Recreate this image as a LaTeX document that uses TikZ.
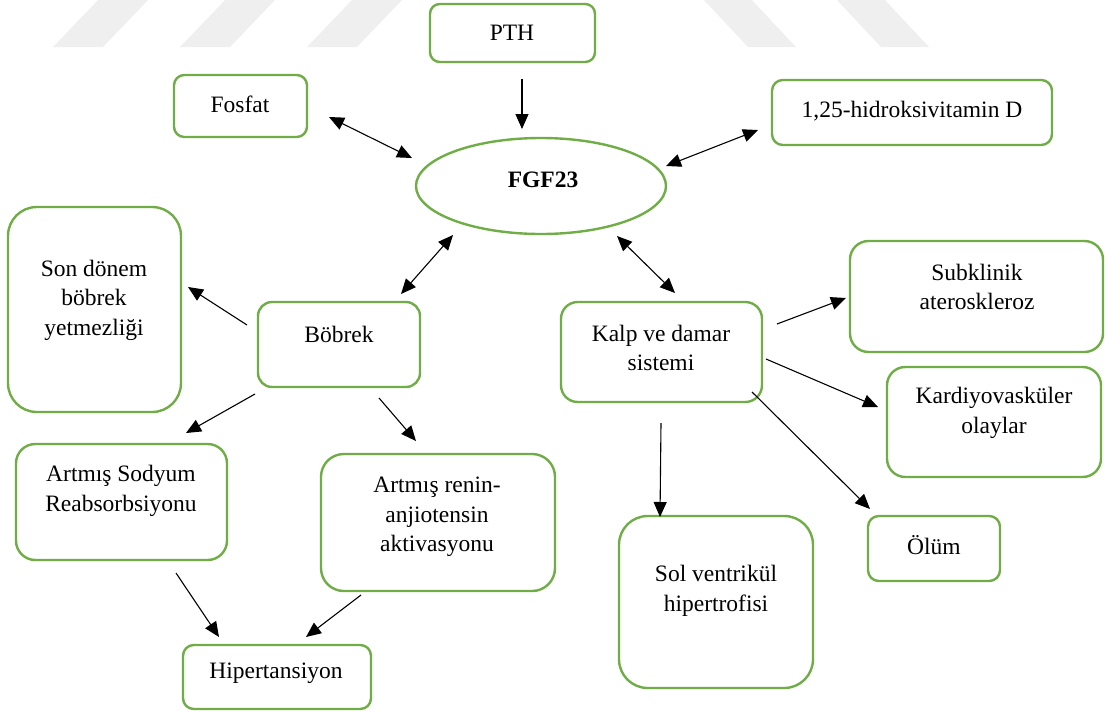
\documentclass[tikz,border=0pt]{standalone}
\usepackage{fontspec}
\setmainfont{Liberation Serif}
\usetikzlibrary{arrows.meta,calc,shapes.geometric}
\definecolor{boxgreen}{HTML}{70AD47}
\definecolor{wmark}{HTML}{EFEFEF}
\tikzset{
  box/.style={draw=boxgreen, line width=2.4pt, fill=white, inner sep=0pt},
  lbl/.style={font=\fontsize{23.5}{29.5}\selectfont, align=center, inner sep=0pt},
  arr/.style={line width=1.1pt, -{Triangle[length=15pt,width=13pt]}},
  biarr/.style={line width=1.1pt, {Triangle[length=15pt,width=13pt]}-{Triangle[length=15pt,width=13pt]}},
}
\begin{document}
\begin{tikzpicture}[x=1pt,y=-1pt]
\useasboundingbox (0,0) rectangle (1105,712);
\clip (0,0) rectangle (1105,712);

% faint background stripes
\foreach \s in {53,180,307}
  \fill[wmark] (\s,47) -- (\s+50,47) -- (\s+97,-2) -- (\s+47,-2) -- cycle;
\foreach \s in {702,835}
  \fill[wmark] (\s,-2) -- (\s+48,-2) -- (\s+94,47) -- (\s+46,47) -- cycle;

% boxes
\node[box, minimum width=165pt, minimum height=58pt, rounded corners=9.7pt] (pth) at (512.5,33) {};
\node[box, minimum width=133pt, minimum height=62pt, rounded corners=10.3pt] (fos) at (240.5,106) {};
\node[box, minimum width=280pt, minimum height=65pt, rounded corners=10.8pt] (vitd) at (912,112.5) {};
\node[box, ellipse, minimum width=250pt, minimum height=96pt] (fgf) at (541,186) {};
\node[box, minimum width=173pt, minimum height=205pt, rounded corners=28.8pt] (son) at (94.5,309.5) {};
\node[box, minimum width=162pt, minimum height=85pt, rounded corners=14pt] (bob) at (339,344.5) {};
\node[box, minimum width=211pt, minimum height=116pt, rounded corners=19.3pt] (sod) at (121.5,502) {};
\node[box, minimum width=234pt, minimum height=137pt, rounded corners=22.8pt] (ren) at (438,522.5) {};
\node[box, minimum width=188pt, minimum height=64pt, rounded corners=10.7pt] (hip) at (277,677) {};
\node[box, minimum width=201pt, minimum height=100pt, rounded corners=16.7pt] (kalp) at (661.5,352) {};
\node[box, minimum width=253pt, minimum height=111pt, rounded corners=18.5pt] (sub) at (976.5,296.5) {};
\node[box, minimum width=214pt, minimum height=110pt, rounded corners=18.3pt] (kar) at (994,422) {};
\node[box, minimum width=132pt, minimum height=65pt, rounded corners=10.8pt] (olum) at (934,548.5) {};
\node[box, minimum width=194pt, minimum height=172pt, rounded corners=28.7pt] (sol) at (716,602) {};

% texts
\node[lbl] (pthT) at (512,33) {PTH};
\node[lbl] (fosT) at (240,104) {Fosfat};
\node[lbl] (vitdT) at (912,111) {1,25-hidroksivitamin D};
\node[lbl, font=\fontsize{23.5}{29.5}\selectfont\bfseries] (fgfT) at (543,180) {FGF23};
\node[lbl] (sonT) at (94,300) {Son dönem\\böbrek\\yetmezliği};
\node[lbl] (bobT) at (339,334) {Böbrek};
\node[lbl] (sodT) at (121,491) {Artmış Sodyum\\Reabsorbsiyonu};
\node[lbl] (renT) at (437,517) {Artmış renin-\\anjiotensin\\aktivasyonu};
\node[lbl] (hipT) at (276,673) {Hipertansiyon};
\node[lbl] (kalpT) at (661,348) {Kalp ve damar\\sistemi};
\node[lbl] (subT) at (977,287) {Subklinik\\ateroskleroz};
\node[lbl] (karT) at (994,413) {Kardiyovasküler\\olaylar};
\node[lbl] (olumT) at (934,545) {Ölüm};
\node[lbl] (solT) at (716,591) {Sol ventrikül\\hipertrofisi};

% connectors
\draw[arr]   ($(pth)+(9.5,46)$)     -- ($(fgf)+(-19,-57)$);
\draw[biarr] ($(fos)+(88.5,11)$)    -- ($(fgf)+(-129,-28)$);
\draw[biarr] ($(fgf)+(125,-20)$)    -- ($(vitd)+(-154,17.5)$);
\draw[biarr] ($(fgf)+(-88,49)$)     -- ($(bob)+(62,-50.5)$);
\draw[biarr] ($(fgf)+(76,50)$)      -- ($(kalp)+(13.5,-59)$);
\draw[arr]   ($(bob)+(-92,-19.5)$)  -- ($(son)+(93.5,-22.5)$);
\draw[arr]   ($(bob)+(-84,49.5)$)   -- ($(sod)+(64.5,-69)$);
\draw[arr]   ($(bob)+(40,53.5)$)    -- ($(ren)+(-22,-81.5)$);
\draw[arr]   ($(sod)+(54.5,71)$)    -- ($(hip)+(-58,-40)$);
\draw[arr]   ($(ren)+(-77,72.5)$)   -- ($(hip)+(29,-40)$);
\draw[arr]   ($(kalp)+(115.5,-28)$) -- ($(sub)+(-130.5,1.5)$);
\draw[arr]   ($(kalp)+(104.5,7)$)   -- ($(kar)+(-116,-15)$);
\draw[arr]   ($(kalp)+(90.5,40)$)   -- ($(olum)+(-64,-39.5)$);
\draw[arr]   ($(kalp)+(-0.5,71)$)   -- ($(sol)+(-56,-85)$);
\end{tikzpicture}
\end{document}
